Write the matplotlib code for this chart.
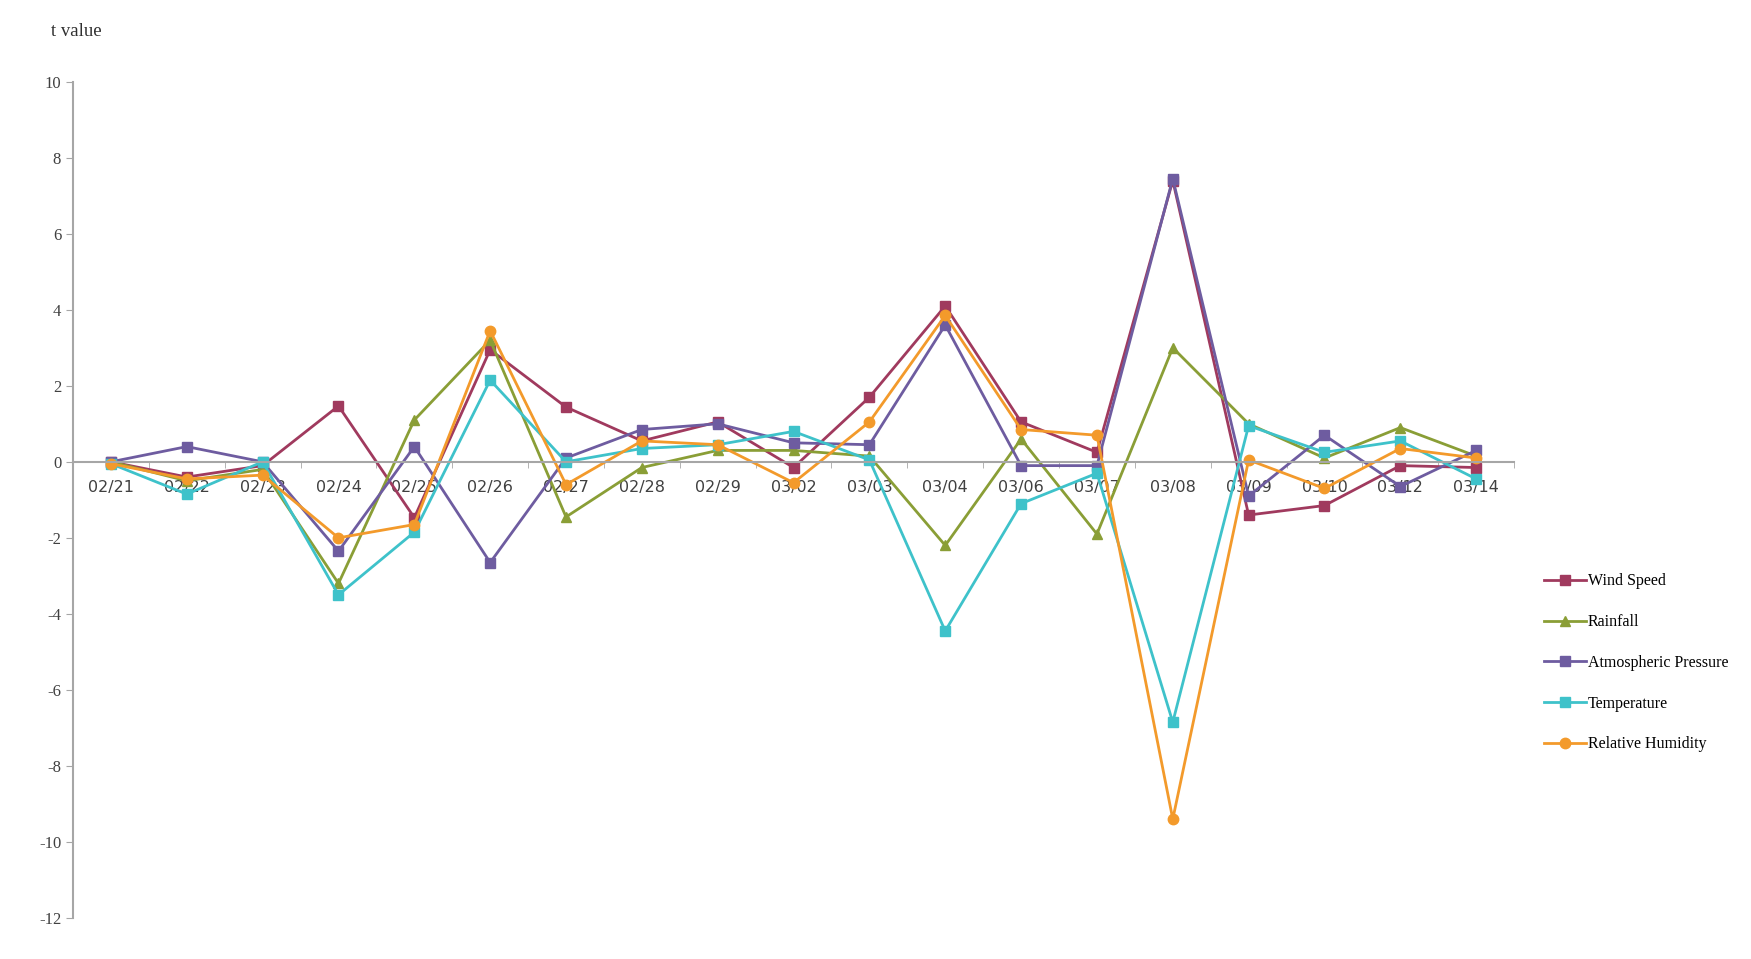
import numpy as np
import matplotlib.pyplot as plt

plt.rcParams["font.family"] = ["Liberation Serif", "DejaVu Serif"]
plt.rcParams["axes.unicode_minus"] = False

# dates on the x axis
dates = ["02/21", "02/22", "02/23", "02/24", "02/25", "02/26", "02/27", "02/28", "02/29", "03/02",
         "03/03", "03/04", "03/06", "03/07", "03/08", "03/09", "03/10", "03/12", "03/14"]

# t values
wind_speed = [0.0, -0.4, -0.1, 1.47, -1.47, 2.95, 1.44, 0.55, 1.05, -0.15,
              1.7, 4.1, 1.05, 0.25, 7.4, -1.4, -1.15, -0.1, -0.15]
rainfall = [0.0, -0.5, -0.2, -3.2, 1.1, 3.2, -1.45, -0.15, 0.3, 0.3,
            0.15, -2.2, 0.6, -1.9, 3.0, 1.0, 0.1, 0.9, 0.15]
pressure = [0.0, 0.4, 0.0, -2.35, 0.4, -2.65, 0.1, 0.85, 1.0, 0.5,
            0.45, 3.6, -0.1, -0.1, 7.45, -0.9, 0.7, -0.65, 0.3]
temperature = [-0.05, -0.85, 0.0, -3.5, -1.85, 2.15, 0.0, 0.35, 0.45, 0.8,
               0.05, -4.45, -1.1, -0.3, -6.85, 0.95, 0.25, 0.55, -0.45]
humidity = [-0.05, -0.45, -0.35, -2.0, -1.65, 3.45, -0.6, 0.55, 0.45, -0.55,
            1.05, 3.85, 0.85, 0.7, -9.4, 0.05, -0.7, 0.35, 0.1]

series = [
    ("Wind Speed", wind_speed, "#A03A5E", "s"),
    ("Rainfall", rainfall, "#8A9E36", "^"),
    ("Atmospheric Pressure", pressure, "#6E5CA0", "s"),
    ("Temperature", temperature, "#3EC2CA", "s"),
    ("Relative Humidity", humidity, "#F39A2B", "o"),
]

fig = plt.figure(figsize=(17.51, 9.59), dpi=100)
ax = fig.add_axes([0.0417, 0.0428, 0.823, 0.872])

x = np.arange(len(dates))
for name, vals, col, mk in series:
    ax.plot(x, vals, color=col, marker=mk, markersize=7.5, linewidth=2, label=name)

ax.set_xlim(-0.5, len(dates) - 0.5)
ax.set_ylim(-12, 10)
ax.set_yticks(range(-12, 11, 2))

grey = "#A6A6A6"
ax.spines["top"].set_visible(False)
ax.spines["right"].set_visible(False)
ax.spines["left"].set_color(grey)
ax.spines["bottom"].set_color(grey)
ax.spines["left"].set_linewidth(1.5)
ax.spines["bottom"].set_linewidth(1.5)
ax.spines["bottom"].set_position(("data", 0))

ax.set_xticks(x)
ax.set_xticklabels(dates, family="DejaVu Sans", fontsize=11.5, color="#404040")
ax.set_xticks(np.arange(-0.5, len(dates), 1), minor=True)
ax.tick_params(axis="x", which="major", length=0, pad=13)
ax.tick_params(axis="x", which="minor", length=4, color=grey, direction="out")
ax.tick_params(axis="y", length=5, color=grey, labelsize=12, labelcolor="#404040")

fig.text(0.029, 0.962, "t value", fontsize=13.5, color="#303030")

ax.legend(loc="center left", bbox_to_anchor=(1.0, 0.305), frameon=False, fontsize=11.5,
          handlelength=2.6, handletextpad=0.1, labelspacing=1.55, borderaxespad=1.5)

fig.savefig("out.png", dpi=100)
